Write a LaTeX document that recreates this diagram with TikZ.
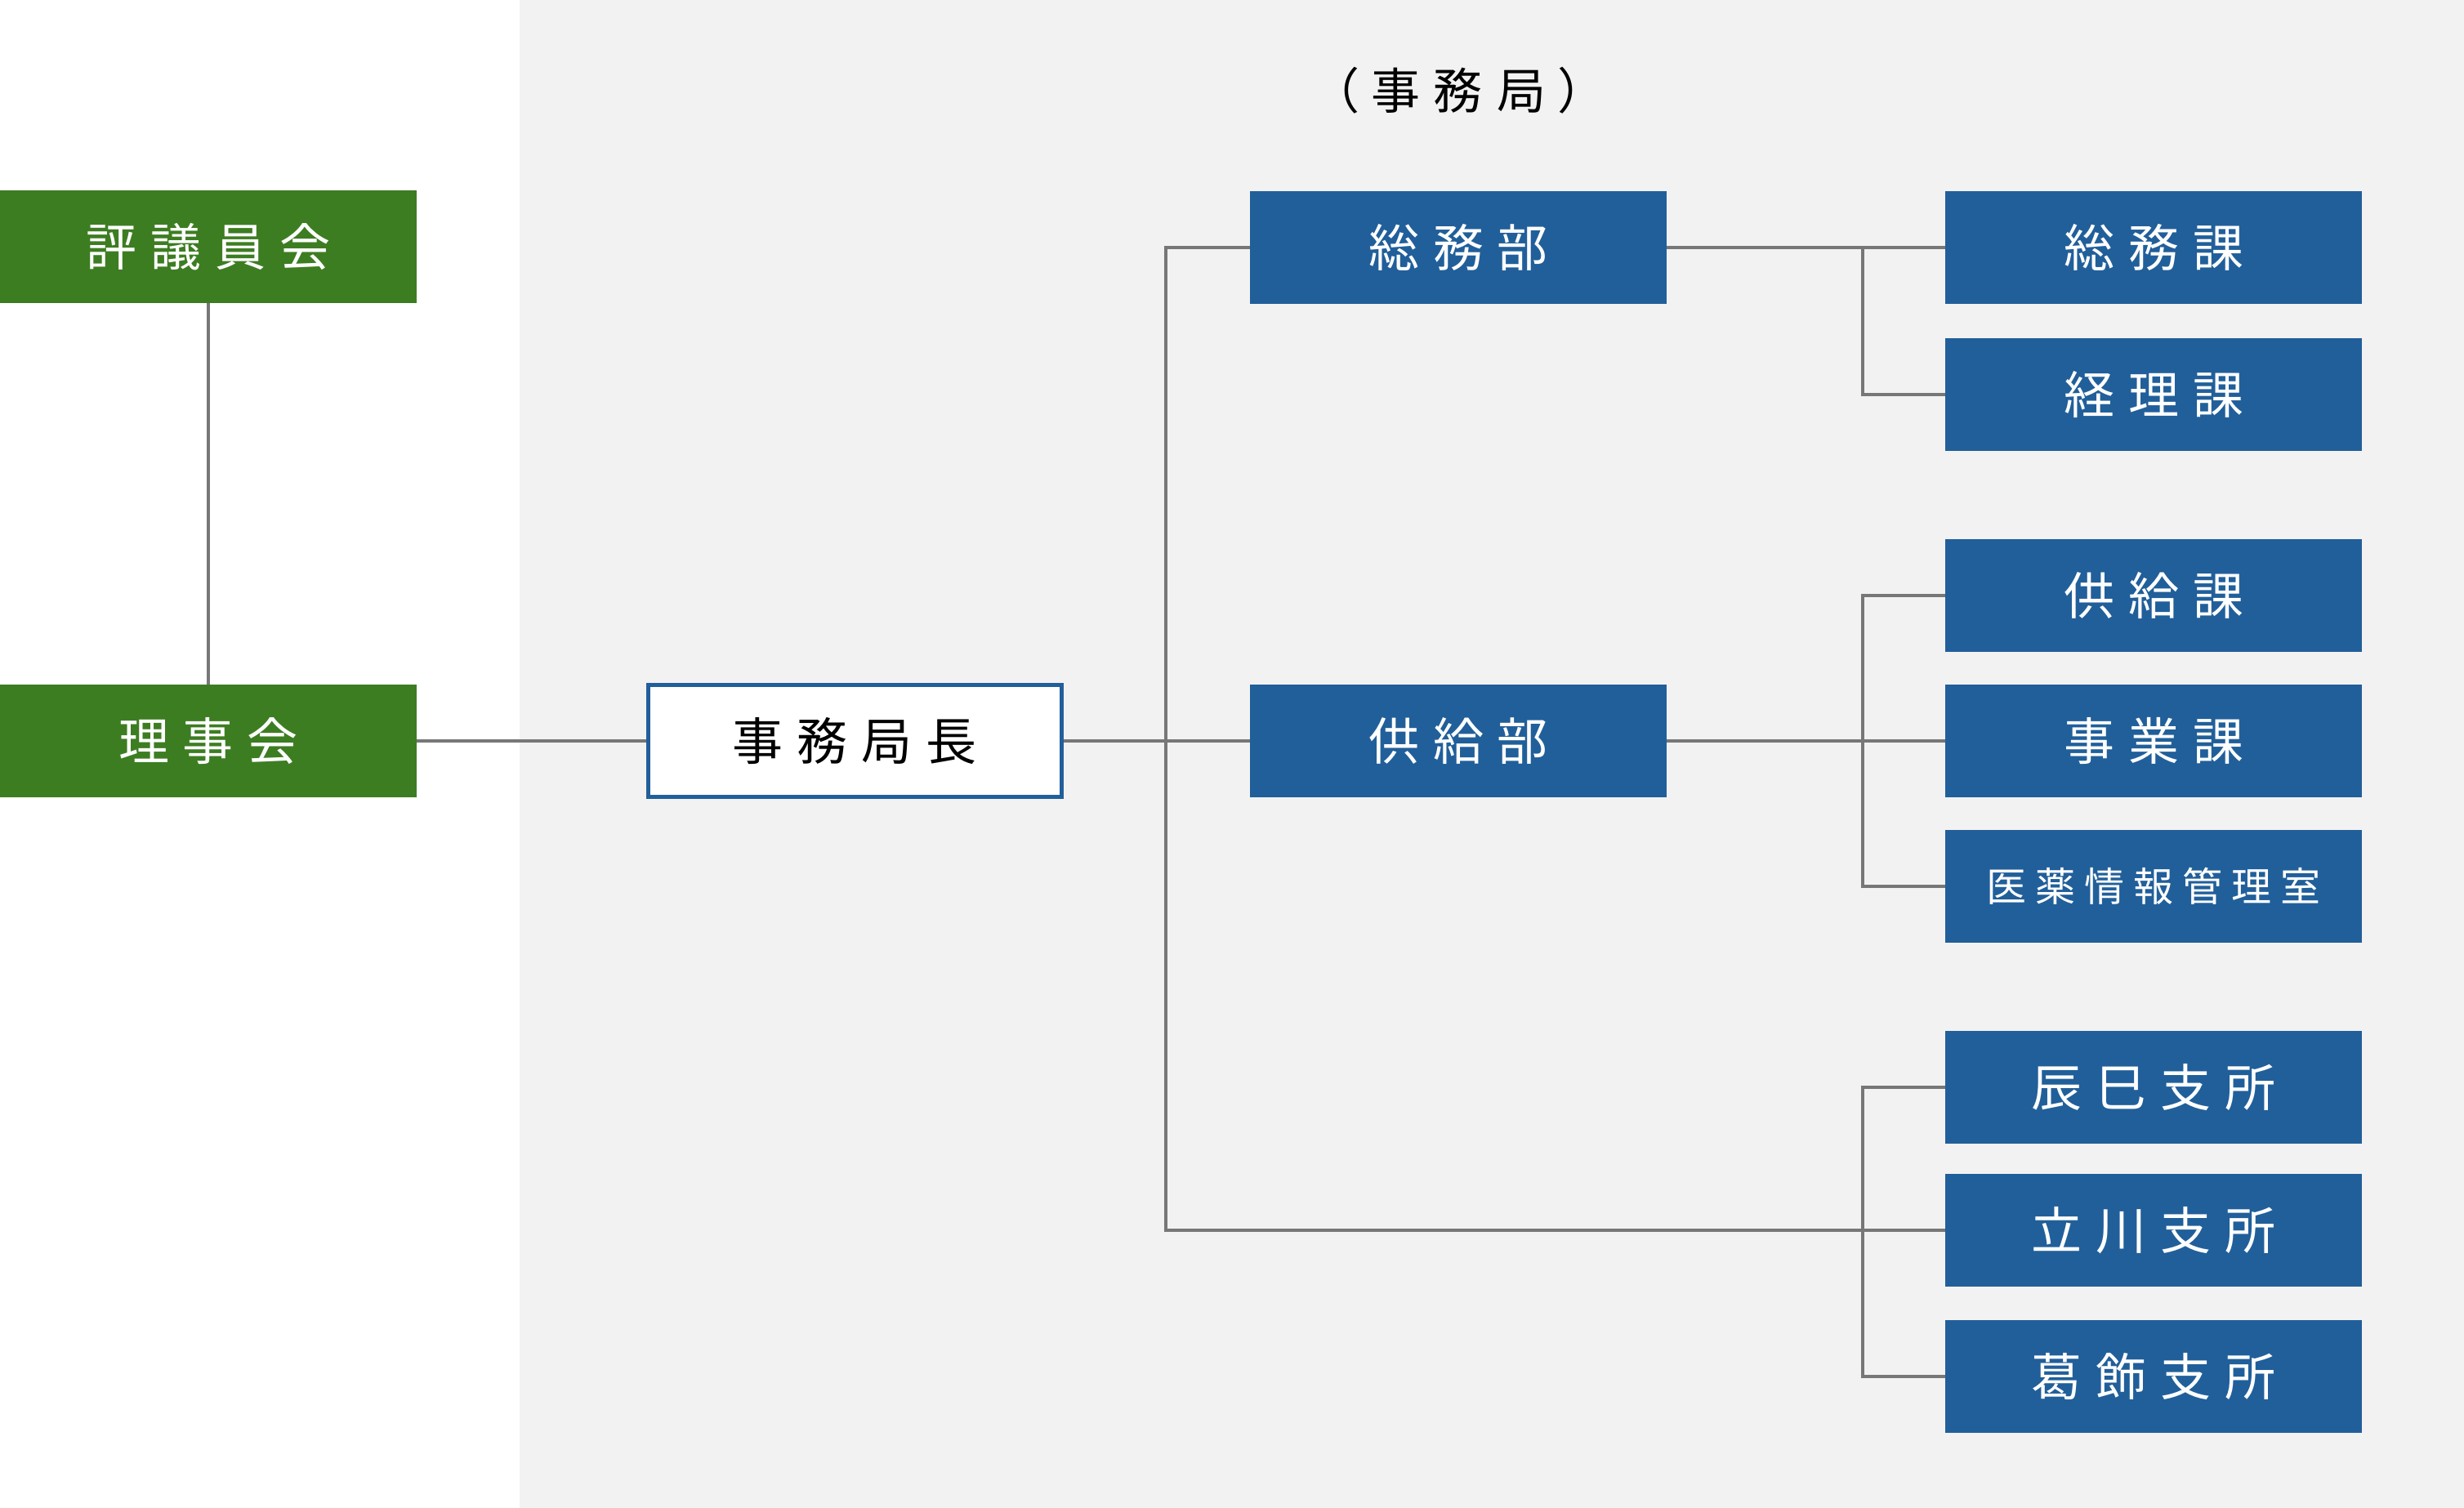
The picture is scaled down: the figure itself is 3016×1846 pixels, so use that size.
\documentclass[tikz,border=0pt]{standalone}
\usepackage{fontspec}
\newfontfamily\jp{Noto Sans CJK JP}
\definecolor{grn}{HTML}{3D7D22}
\definecolor{blu}{HTML}{215F9A}
\definecolor{bgg}{HTML}{F2F2F2}
\definecolor{lin}{HTML}{777777}
\newcommand\gp{\hspace{17pt}}
\newcommand\gs{\hspace{11pt}}
\begin{document}
\begin{tikzpicture}[x=1pt,y=-1pt,
  box/.style={minimum width=510pt,minimum height=138pt,inner sep=0pt,text=white,font=\jp\fontsize{62pt}{70pt}\selectfont},
  gbox/.style={box,fill=grn},
  bbox/.style={box,fill=blu},
  wbox/.style={box,fill=white,draw=blu,line width=5pt,text=black,minimum width=506pt,minimum height=137pt},
  conn/.style={draw=lin,line width=4pt},
  ttl/.style={inner sep=0pt,text=black,font=\jp\fontsize{60pt}{68pt}\selectfont}]
\useasboundingbox (0,0) rectangle (3016,1846);
\fill[white] (0,0) rectangle (3016,1846);
\fill[bgg] (636,0) rectangle (3016,1846);

\node[ttl] (title) at (1785,111) {（\hspace{14pt}事\gp{}務\gp{}局\hspace{14pt}）};

\node[gbox] (hyogi) at (255,302) {評\gp{}議\gp{}員\gp{}会};
\node[gbox] (riji) at (255,907) {理\gp{}事\gp{}会};
\node[wbox] (kyokucho) at (1046,907) {事\gp{}務\gp{}局\gp{}長};
\node[bbox] (somubu) at (1785,303) {総\gp{}務\gp{}部};
\node[bbox] (kyokyubu) at (1785,907) {供\gp{}給\gp{}部};

\node[bbox] (somuka) at (2636,303) {総\gp{}務\gp{}課};
\node[bbox] (keiri) at (2636,483) {経\gp{}理\gp{}課};
\node[bbox] (kyokyuka) at (2636,729) {供\gp{}給\gp{}課};
\node[bbox] (jigyo) at (2636,907) {事\gp{}業\gp{}課};
\node[bbox,font=\jp\fontsize{49pt}{56pt}\selectfont] (iyaku) at (2636,1085) {医\gs{}薬\gs{}情\gs{}報\gs{}管\gs{}理\gs{}室};
\node[bbox] (tatsumi) at (2636,1331) {辰\gp{}巳\gp{}支\gp{}所};
\node[bbox] (tachikawa) at (2636,1506) {立\gp{}川\gp{}支\gp{}所};
\node[bbox] (katsushika) at (2636,1685) {葛\gp{}飾\gp{}支\gp{}所};

\draw[conn] (hyogi) -- (riji);
\draw[conn] (riji) -- (kyokucho);
\draw[conn] (kyokucho) -- (kyokyubu);
\draw[conn] (somubu.west) -- ++(-103,0) |- (tachikawa.west);
\draw[conn] (somubu) -- (somuka);
\draw[conn] (somuka.west) -- ++(-101,0) |- (keiri.west);
\draw[conn] (kyokyubu) -- (jigyo);
\draw[conn] (kyokyuka.west) -- ++(-101,0) |- (iyaku.west);
\draw[conn] (tatsumi.west) -- ++(-101,0) |- (katsushika.west);
\end{tikzpicture}
\end{document}
